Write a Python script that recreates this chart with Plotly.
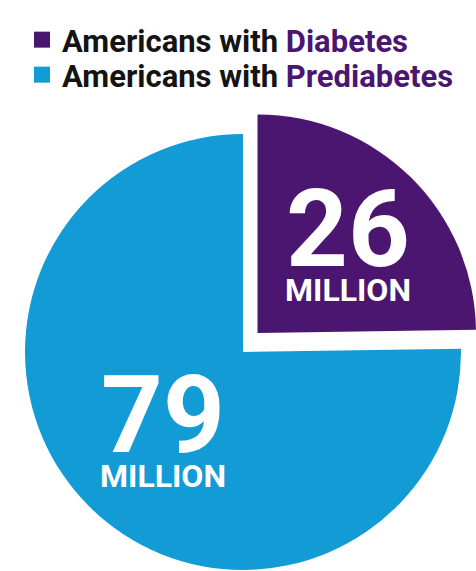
import plotly.graph_objects as go

# Data (millions of Americans)
groups = ["Diabetes", "Prediabetes"]
millions = [26, 79]
legend_prefix = "Americans with"
unit_label = "MILLION"

W, H = 476, 571
PURPLE = "#4b1670"
BLUE = "#139bd6"
CLEAR = "rgba(0,0,0,0)"
INK = "#141414"


def px_domain(cx, cy, r):
    """Pie domain (paper fractions) for a circle given in pixels."""
    clamp = lambda v: min(1.0, max(0.0, v))
    return dict(
        x=[clamp((cx - r) / W), clamp((cx + r) / W)],
        y=[clamp(1 - (cy + r) / H), clamp(1 - (cy - r) / H)],
    )


fig = go.Figure()

# Prediabetes share (the Diabetes wedge is left empty here)
fig.add_trace(go.Pie(
    labels=groups, values=millions, sort=False, direction="clockwise", rotation=0,
    marker=dict(colors=[CLEAR, BLUE], line=dict(width=0)),
    textinfo="none", hoverinfo="skip", showlegend=False,
    domain=px_domain(243, 352, 218),
))

# Diabetes share, exploded up and to the right
fig.add_trace(go.Pie(
    labels=groups, values=millions, sort=False, direction="clockwise", rotation=0,
    marker=dict(colors=[PURPLE, CLEAR], line=dict(width=0)),
    textinfo="none", hoverinfo="skip", showlegend=False,
    domain=px_domain(258, 333, 219),
))

# Legend keys
for i, (g, c) in enumerate(zip(groups, [PURPLE, BLUE])):
    fig.add_trace(go.Scatter(
        x=[None], y=[None], mode="markers",
        marker=dict(symbol="square", size=16, color=c),
        name=f"{legend_prefix} <span style='color:{PURPLE}'>{g}</span>",
        legend="legend" if i == 0 else "legend2",
    ))

legend_style = dict(
    xanchor="left", yanchor="top", bgcolor="rgba(0,0,0,0)", borderwidth=0,
    font=dict(family="Roboto", size=31, color=INK, weight=700),
    itemsizing="trace",
)

# Value labels inside the wedges: big number with the unit underneath
labels_pos = [(348, 238), (163, 423)]
annotations = []
for v, (x, y) in zip(millions, labels_pos):
    annotations.append(dict(
        text=(f"<span style='font-size:108px'><b>{v}</b></span><br>"
              f"<span style='font-size:32px'><b>{unit_label}</b></span>"),
        x=x / W, y=1 - y / H, xref="paper", yref="paper",
        showarrow=False, xanchor="center", yanchor="middle", align="center",
        font=dict(family="Roboto", size=27, color="white"),
    ))

fig.update_layout(
    width=W, height=H,
    margin=dict(l=0, r=0, t=0, b=0),
    paper_bgcolor="white", plot_bgcolor="white",
    xaxis=dict(visible=False), yaxis=dict(visible=False),
    legend=dict(x=22 / W, y=1 - 13 / H, **legend_style),
    legend2=dict(x=22 / W, y=1 - 48 / H, **legend_style),
    annotations=annotations,
)

fig.write_html("out.html")
